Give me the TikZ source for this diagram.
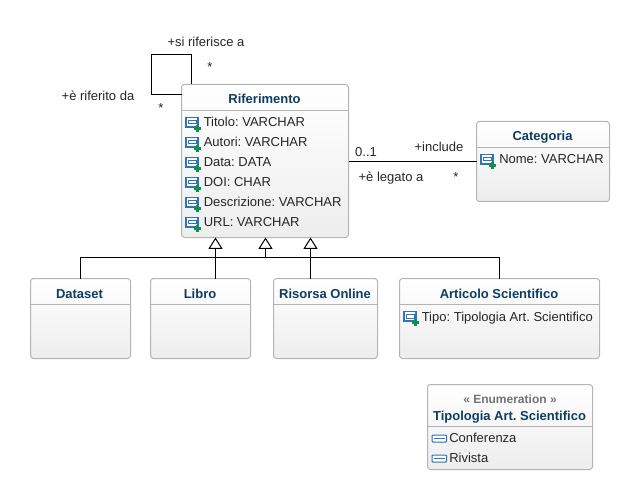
\documentclass[tikz,border=0pt]{standalone}
\usepackage{fontspec}
\setmainfont{Liberation Sans}
\usetikzlibrary{arrows.meta,calc}
\definecolor{dg}{HTML}{B4B4B4}
\definecolor{titleblue}{HTML}{0F3D61}
\definecolor{iconblue}{HTML}{2F74B5}
\definecolor{icongreen}{HTML}{0E9150}
\tikzset{
    box/.style =    {rectangle,
                    rounded corners=2.2pt,
                    top color=white,
                    bottom color=black!7,
                    draw=dg,
                    line width=0.75pt,
                    inner sep=0pt,
                    outer sep=0pt},
    title/.style =  {anchor=base,
                    inner sep=0pt,
                    text=titleblue,
                    font=\fontsize{9.75}{12}\selectfont\bfseries\frenchspacing},
    stereo/.style = {anchor=base,
                    inner sep=0pt,
                    text=black!55,
                    font=\fontsize{9}{12}\selectfont\bfseries\frenchspacing},
    attr/.style =   {anchor=base west,
                    inner sep=0pt,
                    text=black!85,
                    font=\fontsize{9.75}{12}\selectfont\frenchspacing},
    tag/.style =    {anchor=base,
                    inner sep=0pt,
                    text=black!85,
                    font=\fontsize{9.75}{12}\selectfont},
    divider/.style = {draw=dg, line width=0.75pt},
    link/.style =   {draw=black, line width=0.75pt},
    super/.style =  {link, -{Triangle[open,fill=white,length=8.6pt,width=10.6pt]}},
    attricon/.pic = {
        \draw[iconblue, fill=white, line width=0.9pt] (-7,-4.5) rectangle (5,5);
        \draw[iconblue, line width=0.75pt] (-4.5,-1.5) -- (3.5,-1.5) -- (3.5,2) -- (-4.5,2) -- cycle;
        \fill[icongreen] (2.5,3) rectangle (5.5,10);
        \fill[icongreen] (0.5,5) rectangle (7.5,8);
    },
    enumicon/.pic = {
        \draw[iconblue, fill=white, line width=0.75pt, rounded corners=0.7pt] (-7,-3.5) rectangle (7.5,3.5);
        \draw[iconblue, line width=1pt] (-5,0) -- (5.5,0);
    }
}
\begin{document}
\begin{tikzpicture}[x=0.75pt,y=-0.75pt]
    \useasboundingbox (0,0) rectangle (639,499);
    % links first, the boxes sit on top
    \node[box, minimum width=125.25pt, minimum height=114.75pt] (rif) at (265,161) {};
    \node[box, minimum width=99.75pt, minimum height=60pt]      (cat) at (543,161.5) {};
    \node[box, minimum width=75pt, minimum height=60pt]         (dat) at (80.5,318.5) {};
    \node[box, minimum width=75pt, minimum height=60pt]         (lib) at (200.5,318.5) {};
    \node[box, minimum width=78pt, minimum height=60pt]         (ris) at (325.5,318.5) {};
    \node[box, minimum width=150pt, minimum height=60pt]        (art) at (499.5,318.5) {};
    \node[box, minimum width=123.75pt, minimum height=63.75pt]  (enu) at (510,427) {};

    \draw[divider] (rif.west |- 0,110.5) -- (rif.east |- 0,110.5);
    \draw[divider] (cat.west |- 0,147.5) -- (cat.east |- 0,147.5);
    \draw[divider] (dat.west |- 0,304.5) -- (dat.east |- 0,304.5);
    \draw[divider] (lib.west |- 0,304.5) -- (lib.east |- 0,304.5);
    \draw[divider] (ris.west |- 0,304.5) -- (ris.east |- 0,304.5);
    \draw[divider] (art.west |- 0,304.5) -- (art.east |- 0,304.5);
    \draw[divider] (enu.west |- 0,426.5) -- (enu.east |- 0,426.5);

    \node[title] (rifname) at (264.5,104) {Riferimento};
    \node[title] (catname) at (542.5,141) {Categoria};
    \node[title] (datname) at (79.5,298) {Dataset};
    \node[title] (libname) at (200,298) {Libro};
    \node[title] (risname) at (325,298) {Risorsa Online};
    \node[title] (artname) at (499,298) {Articolo Scientifico};
    \node[stereo] (enustereo) at (510,403) {« Enumeration »};
    \node[title] (enuname) at (509.5,420) {Tipologia Art. Scientifico};

    \foreach \n/\y/\t in {ra/127/Titolo: VARCHAR, rb/147/Autori: VARCHAR, rc/167/Data: DATA,
                          rd/187/DOI: CHAR, re/207/Descrizione: VARCHAR, rf/227/URL: VARCHAR} {
        \node[attr] (\n) at (203.5,\y) {\t};
        \pic at (193,\y-5) {attricon};
    }
    \node[attr] (catnome) at (499,164) {Nome: VARCHAR};
    \pic at (488,159) {attricon};
    \node[attr] (arttipo) at (421.5,321) {Tipo: Tipologia Art. Scientifico};
    \pic at (411,316) {attricon};
    \node[attr] (enuconf) at (449,442.5) {Conferenza};
    \pic at (439,438.5) {enumicon};
    \node[attr] (enuriv) at (449,462.5) {Rivista};
    \pic at (439,458.5) {enumicon};

    \draw[link] (rif.west |- 0,94.5) -- (151.5,94.5) -- (151.5,54.5) -- (191.5,54.5) -- (191.5,0 |- rif.north);
    \draw[link] (rif.east |- cat.west) -- (cat.west);

    \draw[super] (lib.north -| 215.5,0) -- (215.5,0 |- rif.south);
    \draw[super] (ris.north -| 310.5,0) -- (310.5,0 |- rif.south);
    \draw[super] (265.5,257.5) -- (265.5,0 |- rif.south);
    \draw[link] (dat.north) -- (80.5,257.5) -- (art.north |- 0,257.5) -- (art.north);

    \node[tag] (selfa) at (206,46.5) {+si riferisce a};
    \node[tag] (selfb) at (210,72) {*};
    \node[tag] (selfc) at (98,100.5) {+è riferito da};
    \node[tag] (selfd) at (161,113) {*};
    \node[tag] (assa) at (366,156.5) {0..1};
    \node[tag] (assb) at (439,151.5) {+include};
    \node[tag] (assc) at (391,181.5) {+è legato a};
    \node[tag] (assd) at (456,181) {*};
\end{tikzpicture}
\end{document}
